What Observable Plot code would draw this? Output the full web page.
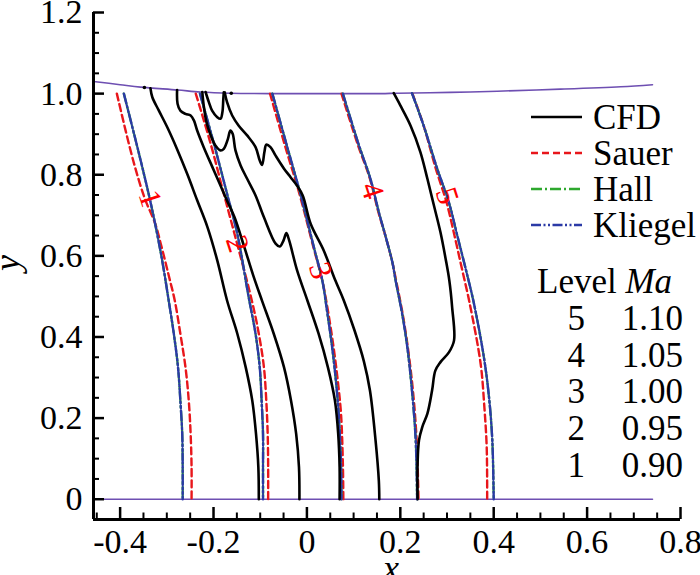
<!DOCTYPE html>
<html>
<head>
<meta charset="utf-8">
<script src="https://cdn.jsdelivr.net/npm/d3@7"></script>
<script src="https://cdn.jsdelivr.net/npm/@observablehq/plot@0.6"></script>
<style>
  html, body { margin: 0; padding: 0; background: #fff; }
  #chart { position: relative; width: 700px; height: 575px; }
</style>
</head>
<body>
<div id="chart"></div>
<script>
// ---------- data ----------
const xDomain = [-0.457, 0.8];
const yDomain = [-0.05, 1.2];
const xTicks = [-0.4, -0.2, 0, 0.2, 0.4, 0.6, 0.8];
const xTickLabels = ["-0.4", "-0.2", "0", "0.2", "0.4", "0.6", "0.8"];
const yTicks = [0, 0.2, 0.4, 0.6, 0.8, 1.0, 1.2];
const yTickLabels = ["0", "0.2", "0.4", "0.6", "0.8", "1.0", "1.2"];
const xMinor = [-0.45, -0.35, -0.3, -0.25, -0.15, -0.1, -0.05, 0.05, 0.1, 0.15, 0.25, 0.3, 0.35, 0.45, 0.5, 0.55, 0.65, 0.7, 0.75];
const yMinor = [0.05, 0.1, 0.15, 0.25, 0.3, 0.35, 0.45, 0.5, 0.55, 0.65, 0.7, 0.75, 0.85, 0.9, 0.95, 1.05, 1.1, 1.15];

const wallTop = [[-0.457,1.030],[-0.40,1.022],[-0.356,1.016],[-0.277,1.009],[-0.228,1.004],[-0.164,1.001],[-0.057,1.000],[0.051,1.000],[0.158,1.000],[0.194,1.001],[0.307,1.003],[0.408,1.006],[0.543,1.011],[0.672,1.017],[0.740,1.022]];
const wallBottom = [[-0.457,0],[0.740,0]];

const sauer1 = [[-0.407,1.0],[-0.372,0.835],[-0.347,0.741],[-0.325,0.680],[-0.313,0.630],[-0.296,0.552],[-0.283,0.490],[-0.271,0.408],[-0.260,0.325],[-0.253,0.243],[-0.249,0.161],[-0.247,0.079],[-0.247,0]];
const sauer2 = [[-0.238,1.0],[-0.206,0.876],[-0.178,0.753],[-0.155,0.654],[-0.118,0.490],[-0.103,0.408],[-0.092,0.325],[-0.087,0.243],[-0.084,0.161],[-0.083,0.079],[-0.083,0]];
const sauer3 = [[-0.079,1.0],[-0.046,0.868],[-0.016,0.753],[0.014,0.621],[0.033,0.539],[0.045,0.465],[0.057,0.375],[0.066,0.293],[0.073,0.211],[0.077,0.087],[0.078,0]];
const sauer4 = [[0.074,1.0],[0.109,0.874],[0.135,0.790],[0.153,0.708],[0.168,0.650],[0.183,0.584],[0.191,0.539],[0.205,0.457],[0.216,0.375],[0.227,0.268],[0.235,0.145],[0.239,0]];
const sauer5 = [[0.226,1.0],[0.250,0.921],[0.276,0.815],[0.299,0.732],[0.316,0.650],[0.332,0.568],[0.348,0.486],[0.372,0.334],[0.380,0.227],[0.385,0.128],[0.386,0]];

const hall1 = [[-0.392,1.0],[-0.356,0.835],[-0.331,0.712],[-0.310,0.589],[-0.296,0.490],[-0.285,0.408],[-0.276,0.325],[-0.271,0.243],[-0.267,0.161],[-0.266,0.079],[-0.266,0]];
const hall2 = [[-0.229,1.0],[-0.199,0.876],[-0.171,0.753],[-0.149,0.654],[-0.125,0.500],[-0.110,0.408],[-0.101,0.325],[-0.097,0.243],[-0.094,0.161],[-0.094,0.079],[-0.094,0]];
const hall3 = [[-0.074,1.0],[-0.042,0.868],[-0.014,0.753],[0.015,0.621],[0.033,0.539],[0.043,0.465],[0.054,0.375],[0.062,0.293],[0.068,0.211],[0.073,0.087],[0.074,0]];
const hall4 = [[0.077,1.0],[0.111,0.874],[0.136,0.790],[0.154,0.708],[0.168,0.650],[0.183,0.584],[0.190,0.539],[0.204,0.457],[0.215,0.375],[0.225,0.268],[0.233,0.145],[0.236,0]];
const hall5 = [[0.225,1.001],[0.250,0.921],[0.279,0.815],[0.304,0.732],[0.322,0.650],[0.340,0.568],[0.357,0.486],[0.379,0.350],[0.390,0.251],[0.397,0.145],[0.400,0]];

const kliegel1 = [[-0.392,1.0],[-0.356,0.835],[-0.331,0.712],[-0.310,0.589],[-0.296,0.490],[-0.285,0.408],[-0.276,0.325],[-0.271,0.243],[-0.267,0.161],[-0.266,0.079],[-0.266,0]];
const kliegel2 = [[-0.229,1.0],[-0.199,0.876],[-0.171,0.753],[-0.149,0.654],[-0.125,0.500],[-0.110,0.408],[-0.101,0.325],[-0.097,0.243],[-0.094,0.161],[-0.094,0.079],[-0.094,0]];
const kliegel3 = [[-0.074,1.0],[-0.042,0.868],[-0.014,0.753],[0.015,0.621],[0.033,0.539],[0.043,0.465],[0.054,0.375],[0.062,0.293],[0.068,0.211],[0.073,0.087],[0.074,0]];
const kliegel4 = [[0.077,1.0],[0.111,0.874],[0.136,0.790],[0.154,0.708],[0.168,0.650],[0.183,0.584],[0.190,0.539],[0.204,0.457],[0.215,0.375],[0.225,0.268],[0.233,0.145],[0.236,0]];
const kliegel5 = [[0.225,1.001],[0.250,0.921],[0.279,0.815],[0.304,0.732],[0.322,0.650],[0.340,0.568],[0.357,0.486],[0.379,0.350],[0.390,0.251],[0.397,0.145],[0.400,0]];

const cfd1 = [[-0.335,1.013],[-0.331,0.991],[-0.317,0.958],[-0.299,0.917],[-0.278,0.863],[-0.256,0.801],[-0.235,0.737],[-0.213,0.671],[-0.192,0.589],[-0.171,0.490],[-0.149,0.408],[-0.131,0.325],[-0.117,0.243],[-0.109,0.161],[-0.104,0.079],[-0.103,0]];
const cfd2 = [[-0.278,1.009],[-0.277,0.975],[-0.271,0.958],[-0.260,0.950],[-0.249,0.946],[-0.242,0.934],[-0.235,0.909],[-0.221,0.868],[-0.199,0.810],[-0.171,0.736],[-0.155,0.695],[-0.135,0.625],[-0.115,0.552],[-0.096,0.489],[-0.071,0.408],[-0.049,0.325],[-0.034,0.243],[-0.023,0.161],[-0.017,0.079],[-0.016,0]];
const cfd3 = [[-0.224,1.004],[-0.221,0.971],[-0.215,0.929],[-0.206,0.897],[-0.196,0.872],[-0.185,0.860],[-0.178,0.864],[-0.169,0.889],[-0.164,0.909],[-0.159,0.901],[-0.153,0.860],[-0.142,0.823],[-0.128,0.790],[-0.110,0.749],[-0.092,0.695],[-0.067,0.630],[-0.058,0.623],[-0.050,0.638],[-0.044,0.656],[-0.038,0.638],[-0.021,0.564],[0.001,0.490],[0.025,0.408],[0.045,0.325],[0.060,0.243],[0.067,0.161],[0.070,0.079],[0.070,0]];
const cfdLoop = [[-0.217,1.004],[-0.210,0.979],[-0.203,0.958],[-0.192,0.942],[-0.185,0.938],[-0.181,0.954],[-0.179,0.987],[-0.178,1.003]];
const cfd4 = [[-0.176,1.003],[-0.171,0.979],[-0.160,0.946],[-0.146,0.921],[-0.128,0.897],[-0.110,0.868],[-0.101,0.835],[-0.096,0.824],[-0.091,0.856],[-0.087,0.874],[-0.078,0.868],[-0.067,0.847],[-0.049,0.815],[-0.035,0.794],[-0.021,0.773],[-0.009,0.749],[0.008,0.679],[0.036,0.613],[0.061,0.539],[0.079,0.490],[0.102,0.416],[0.122,0.340],[0.135,0.268],[0.147,0.145],[0.154,0.046],[0.155,0]];
const cfd5 = [[0.186,1.001],[0.200,0.971],[0.222,0.921],[0.243,0.856],[0.258,0.790],[0.272,0.724],[0.286,0.658],[0.297,0.593],[0.305,0.539],[0.311,0.473],[0.315,0.391],[0.304,0.362],[0.286,0.338],[0.275,0.317],[0.268,0.268],[0.258,0.211],[0.247,0.178],[0.240,0.145],[0.237,0.087],[0.237,0]];
const cfdSpots = [[-0.162,1.001],[-0.348,1.015]];

const levelLabels = ["1", "2", "3", "4", "5"];
const levelLabelX = [-0.336, -0.149, 0.029, 0.140, 0.300];
const levelLabelY = [0.741, 0.630, 0.564, 0.761, 0.748];

const legendNames = ["CFD", "Sauer", "Hall", "Kliegel"];
const levelIds = ["5", "4", "3", "2", "1"];
const levelMa = ["1.10", "1.05", "1.00", "0.95", "0.90"];

// ---------- styles ----------
const FONT = "'Liberation Serif', 'Times New Roman', serif";
const RED = "#e8161b", GREEN = "#2ea82e", BLUE = "#2b3aa6", PURPLE = "#6e4fb2";
const styles = {
  CFD:     {stroke: "#000", width: 2.6, dash: null},
  Sauer:   {stroke: RED, width: 2.4, dash: "7,4"},
  Hall:    {stroke: GREEN, width: 2.3, dash: "11,3,2,3"},
  Kliegel: {stroke: BLUE, width: 2.4, dash: "10,2.5,2,2.5,2,2.5"}
};

const rows = [];
function add(method, level, pts) { pts.forEach(([x, y]) => rows.push({method, level, x, y})); }
[sauer1, sauer2, sauer3, sauer4, sauer5].forEach((p, i) => add("Sauer", i + 1, p));
[hall1, hall2, hall3, hall4, hall5].forEach((p, i) => add("Hall", i + 1, p));
[kliegel1, kliegel2, kliegel3, kliegel4, kliegel5].forEach((p, i) => add("Kliegel", i + 1, p));
[cfd1, cfd2, cfd3, cfdLoop, cfd4, cfd5].forEach((p, i) => add("CFD", "c" + i, p));
const wallRows = [];
wallTop.forEach(([x, y]) => wallRows.push({w: "top", x, y}));
wallBottom.forEach(([x, y]) => wallRows.push({w: "bottom", x, y}));
const labelRows = levelLabels.map((t, i) => ({t, x: levelLabelX[i], y: levelLabelY[i]}));

const W = 700, H = 575, mL = 93, mR = 20, mT = 12, mB = 56;
const innerW = W - mL - mR, innerH = H - mT - mB;
const xLab = new Map(xTicks.map((v, i) => [v, xTickLabels[i]]));
const yLab = new Map(yTicks.map((v, i) => [v, yTickLabels[i]]));

function methodLine(m) {
  const s = styles[m];
  return Plot.line(rows.filter(d => d.method === m), {
    x: "x", y: "y", z: "level", stroke: s.stroke, strokeWidth: s.width,
    strokeDasharray: s.dash, curve: "catmull-rom"
  });
}

const chart = Plot.plot({
  width: W, height: H,
  marginLeft: mL, marginRight: mR, marginTop: mT, marginBottom: mB,
  x: {domain: xDomain},
  y: {domain: yDomain},
  style: {fontFamily: FONT, fontSize: "34px", background: "#fff", color: "#000", overflow: "visible"},
  marks: [
    Plot.line(wallRows, {x: "x", y: "y", z: "w", stroke: PURPLE, strokeWidth: 1.6, curve: "catmull-rom"}),
    methodLine("Sauer"),
    methodLine("Hall"),
    methodLine("Kliegel"),
    methodLine("CFD"),
    Plot.dot(cfdSpots, {x: d => d[0], y: d => d[1], r: 1.8, fill: "#000"}),
    Plot.text(labelRows, {x: "x", y: "y", text: "t", rotate: 72, fill: "#ff0000", fontSize: 31, fontFamily: FONT}),
    // axis lines
    Plot.ruleX([xDomain[0]], {stroke: "#000", strokeWidth: 3}),
    Plot.ruleY([yDomain[0]], {stroke: "#000", strokeWidth: 3}),
    // inward ticks
    Plot.tickX(xTicks, {x: d => d, insetTop: innerH - 12, stroke: "#000", strokeWidth: 2.5}),
    Plot.tickX(xMinor, {x: d => d, insetTop: innerH - 6.5, stroke: "#000", strokeWidth: 2}),
    Plot.tickY(yTicks, {y: d => d, insetRight: innerW - 11, stroke: "#000", strokeWidth: 2.5}),
    Plot.tickY(yMinor, {y: d => d, insetRight: innerW - 6, stroke: "#000", strokeWidth: 2}),
    // tick labels
    Plot.axisX(xTicks, {anchor: "bottom", tickSize: 0, tickPadding: 9, tickFormat: d => xLab.get(d), fontSize: 34, label: null}),
    Plot.axisY(yTicks, {anchor: "left", tickSize: 0, tickPadding: 11, tickFormat: d => yLab.get(d), fontSize: 34, label: null}),
    // axis titles
    Plot.text(["x"], {frameAnchor: "bottom", dx: 4, dy: 49, textAnchor: "middle", lineAnchor: "middle", text: d => d, fontStyle: "italic", fontSize: 36, fontFamily: FONT}),
    Plot.text(["y"], {frameAnchor: "left", dx: -86, dy: -3, textAnchor: "middle", lineAnchor: "middle", rotate: -90, text: d => d, fontStyle: "italic", fontSize: 36, fontFamily: FONT})
  ]
});

// ---------- legend (drawn into the same svg) ----------
const svg = d3.select(chart);
const lg = svg.append("g").attr("font-family", FONT).attr("fill", "#000").attr("text-anchor", "start");
legendNames.forEach((name, i) => {
  const s = styles[name];
  const yLine = 117 + i * 36;
  lg.append("line")
    .attr("x1", 531).attr("x2", 582).attr("y1", yLine).attr("y2", yLine)
    .attr("stroke", s.stroke).attr("stroke-width", s.width)
    .attr("stroke-dasharray", s.dash);
  lg.append("text").attr("x", 593).attr("y", yLine + 12).attr("font-size", 35).attr("text-anchor", "start").text(name);
});
const head = lg.append("text").attr("x", 537).attr("y", 293).attr("font-size", 35).attr("text-anchor", "start");
head.append("tspan").text("Level ");
head.append("tspan").attr("font-style", "italic").text("Ma");
levelIds.forEach((id, i) => {
  const yb = 330 + i * 36.7;
  lg.append("text").attr("x", 585).attr("y", yb).attr("text-anchor", "end").attr("font-size", 35).text(id);
  lg.append("text").attr("x", 683).attr("y", yb).attr("text-anchor", "end").attr("font-size", 35).text(levelMa[i]);
});

document.getElementById("chart").appendChild(chart);
</script>
</body>
</html>
